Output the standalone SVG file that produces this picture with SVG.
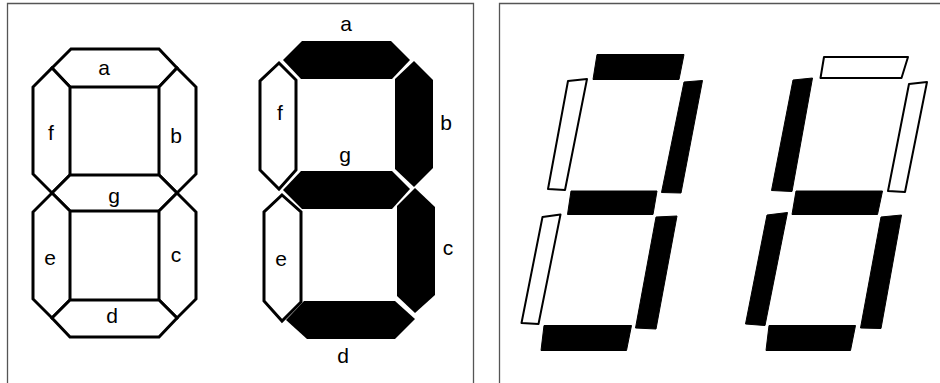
<svg xmlns="http://www.w3.org/2000/svg" width="940" height="383" viewBox="0 0 940 383">
<style>
.frame{fill:none;stroke:#555;stroke-width:1.3}
.o{fill:#fff;stroke:#000;stroke-width:3;stroke-linejoin:miter}
.f{fill:#000}
.o2{fill:#fff;stroke:#000;stroke-width:2;stroke-linejoin:round}
.f2{fill:#000;stroke:#000;stroke-width:1;stroke-linejoin:round}
.t{font-family:"Liberation Sans",Arial,sans-serif;font-size:21px;text-anchor:middle;fill:#000}
</style>
<rect x="0" y="0" width="940" height="383" fill="#fff"/>
<g id="frames">
<path class="frame" d="M7.5,390 V3.5 H473.5 V390"/>
<path class="frame" d="M499.5,390 V3.5 H945"/>
</g>
<g id="digit-outline">
<polygon id="L-a" class="o" points="52,68 71,49 159,49 177,68 159,87 70,87"/>
<polygon id="L-b" class="o" points="177,68 196,87 196,174 177,193 159,175 159,87"/>
<polygon id="L-f" class="o" points="52,68 70,87 70,175 52,193 33,174 33,87"/>
<polygon id="L-g" class="o" points="52,193 70,175 159,175 177,193 159,211 70,211"/>
<polygon id="L-e" class="o" points="52,193 70,211 70,300 52,318 33,299 33,212"/>
<polygon id="L-c" class="o" points="177,193 196,212 196,299 177,318 159,300 159,211"/>
<polygon id="L-d" class="o" points="52,318 70,300 159,300 177,318 159,337 70,337"/>
<text class="t" x="104" y="75">a</text>
<text class="t" x="51" y="140">f</text>
<text class="t" x="176" y="143">b</text>
<text class="t" x="114" y="203">g</text>
<text class="t" x="50" y="265">e</text>
<text class="t" x="176" y="262">c</text>
<text class="t" x="112" y="323">d</text>
</g>
<g id="digit-filled">
<polygon id="M-a" class="f" points="283,60 302,41 391,41 410,60 392,79 301,79"/>
<polygon id="M-b" class="f" points="414,61 433,80 433,168 414,187 395,169 395,79"/>
<polygon id="M-f" class="o" points="279,63 296,80 296,170 279,189 260,170 260,81"/>
<polygon id="M-g" class="f" points="283,190 301,171 392,171 410,189 392,209 302,209"/>
<polygon id="M-e" class="o" points="282,195 301,212 301,302 282,321 264,301 264,212"/>
<polygon id="M-c" class="f" points="415,188 435,207 435,295 415,313 397,296 397,206"/>
<polygon id="M-d" class="f" points="286,320 304,301 395,301 415,319 395,339 307,339"/>
<text class="t" x="346" y="31">a</text>
<text class="t" x="280" y="120">f</text>
<text class="t" x="446" y="130">b</text>
<text class="t" x="345" y="162">g</text>
<text class="t" x="281" y="266">e</text>
<text class="t" x="448" y="255">c</text>
<text class="t" x="343" y="363">d</text>
</g>
<g id="italic-digit-1">
<polygon id="R1-a" class="f2" points="597,54.5 684,54.5 679,79.5 593,79.5"/>
<polygon id="R1-b" class="f2" points="684,82 702.5,80.5 681,193 661.5,192.5"/>
<polygon id="R1-f" class="o2" points="568,81 587,79 565,190 548,189"/>
<polygon id="R1-g" class="f2" points="571,191 657,191 653,214.5 567.5,214.5"/>
<polygon id="R1-e" class="o2" points="542.5,217 560.5,214.5 538.5,324 521.5,323"/>
<polygon id="R1-c" class="f2" points="656,217 677,216 656,329 635.5,328"/>
<polygon id="R1-d" class="f2" points="544,325.5 631.5,325.5 626.5,350.5 541,350.5"/>
</g>
<g id="italic-digit-2">
<polygon id="R2-a" class="o2" points="824,57 908,57 901.5,78 820.5,78"/>
<polygon id="R2-b" class="o2" points="909,84 927,82 905,192 888,191"/>
<polygon id="R2-f" class="f2" points="793,80 812.5,78 792,191.5 771.5,190.5"/>
<polygon id="R2-g" class="f2" points="796,191 882.5,191 877.5,214.5 792,214.5"/>
<polygon id="R2-e" class="f2" points="767,215 787.5,212.5 765,325.5 745.5,324"/>
<polygon id="R2-c" class="f2" points="881,217 901.5,215 881,328.5 860.5,328"/>
<polygon id="R2-d" class="f2" points="769,325.5 855.5,325.5 850.5,350.5 766,350.5"/>
</g>
</svg>
